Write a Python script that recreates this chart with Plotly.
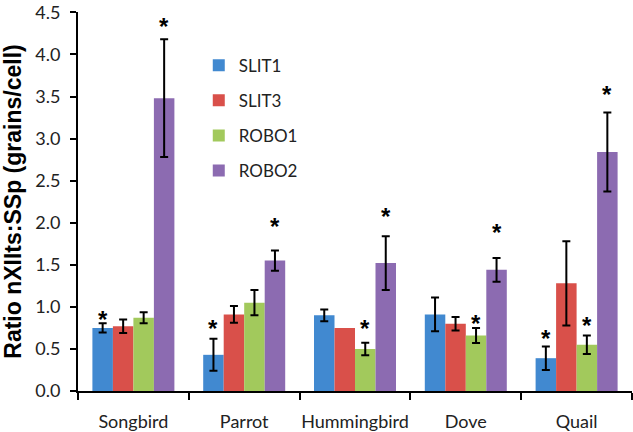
import plotly.graph_objects as go

categories = ["Songbird", "Parrot", "Hummingbird", "Dove", "Quail"]
series_names = ["SLIT1", "SLIT3", "ROBO1", "ROBO2"]
colors = ["#4189d0", "#d9504a", "#a2c95c", "#8c6bb1"]

slit1 = [0.75, 0.43, 0.90, 0.91, 0.39]
slit1_err = [0.055, 0.19, 0.07, 0.20, 0.14]
slit3 = [0.77, 0.91, 0.75, 0.80, 1.28]
slit3_err = [0.08, 0.10, None, 0.08, 0.50]   # None = no error bar shown
robo1 = [0.87, 1.05, 0.50, 0.66, 0.55]
robo1_err = [0.065, 0.15, 0.075, 0.09, 0.11]
robo2 = [3.48, 1.55, 1.52, 1.44, 2.84]
robo2_err = [0.70, 0.12, 0.32, 0.14, 0.47]

# significance asterisk heights (None = no asterisk)
slit1_star = [0.92, 0.81, None, None, 0.69]
slit3_star = [None, None, None, None, None]
robo1_star = [None, None, 0.81, 0.876, 0.85]
robo2_star = [4.40, 2.03, 2.15, 1.95, 3.59]

values = [slit1, slit3, robo1, robo2]
errors = [slit1_err, slit3_err, robo1_err, robo2_err]
stars = [slit1_star, slit3_star, robo1_star, robo2_star]

bargap = 0.26
fig = go.Figure()
for name, col, v, e in zip(series_names, colors, values, errors):
    # missing error -> "NaN" so plotly.js skips drawing that error bar entirely
    e_arr = ["NaN" if x is None else x for x in e]
    fig.add_trace(go.Bar(
        name=name, x=categories, y=v, marker_color=col, marker_line_width=0,
        error_y=dict(type="data", array=e_arr, visible=True, color="black",
                     thickness=2, width=4),
        legendgroup=name,
    ))

bw = (1 - bargap) / 4
annotations = []
for j, st in enumerate(stars):
    for i, s in enumerate(st):
        if s is None:
            continue
        annotations.append(dict(
            x=i + (j - 1.5) * bw, y=s, xref="x", yref="y", text="<b>*</b>",
            showarrow=False, font=dict(size=24, color="black", family="Liberation Sans"),
            yanchor="middle", yshift=-6,
        ))

fig.update_layout(
    width=633, height=432,
    margin=dict(l=78, r=1, t=12, b=41),
    paper_bgcolor="white", plot_bgcolor="white",
    barmode="group", bargap=bargap, bargroupgap=0,
    annotations=annotations,
    showlegend=True,
    legend=dict(x=0.218, y=0.906, xanchor="left", yanchor="top",
                font=dict(family="Lato", size=17, color="#222"),
                tracegroupgap=10, bgcolor="rgba(0,0,0,0)"),
    xaxis=dict(
        type="category", showline=True, linecolor="black", linewidth=2,
        ticks="outside", tickson="boundaries", ticklen=7, tickwidth=2, tickcolor="black",
        tickfont=dict(family="Lato", size=18, color="#222"), tickangle=0,
        ticklabelstandoff=13, showgrid=False, range=[-0.5, 4.5], automargin=False,
    ),
    yaxis=dict(
        range=[0, 4.505], tickvals=[0, 0.5, 1, 1.5, 2, 2.5, 3, 3.5, 4, 4.5], tickformat=".1f",
        showline=True, linecolor="black", linewidth=2,
        ticks="outside", ticklen=6, tickwidth=2, tickcolor="black",
        tickfont=dict(family="Lato", size=18, color="#222"),
        ticklabeloverflow="allow", ticklabelstandoff=6,
        showgrid=False, zeroline=False, automargin=False,
        title=dict(text="<b>Ratio nXIIts:SSp (grains/cell)</b>",
                   font=dict(family="Liberation Sans", size=23, color="black"),
                   standoff=14),
    ),
)

fig.write_html("out.html", config={"displayModeBar": False},
               post_script="document.body.style.margin='0';")
